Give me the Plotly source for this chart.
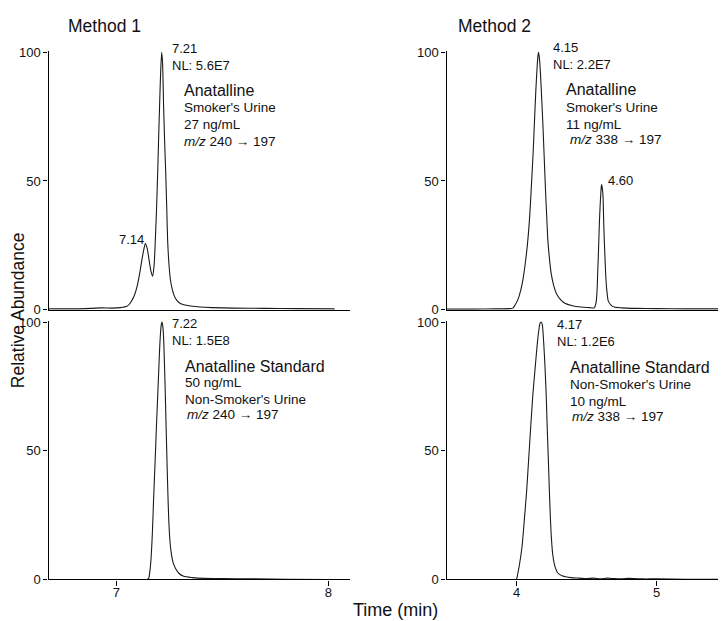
import plotly.graph_objects as go

# ---------------- data ----------------
# Method 1, smoker's urine
m1_smk_t = [6.68, 6.80, 6.88, 6.93, 6.98, 7.02, 7.05, 7.066, 7.085, 7.098, 7.11, 7.121, 7.13, 7.137,
            7.145, 7.152, 7.162, 7.171, 7.178, 7.184, 7.19, 7.195, 7.20, 7.204, 7.209, 7.214, 7.218,
            7.223, 7.228, 7.233, 7.238, 7.242, 7.248, 7.255, 7.265, 7.278, 7.295, 7.318, 7.35, 7.396,
            7.45, 7.55, 7.70, 7.85, 8.03]
m1_smk_v = [0.3, 0.3, 0.5, 0.7, 0.6, 0.8, 1.3, 2.6, 5.5, 9, 14, 19.5, 23.5, 25.7,
            24, 20.7, 15.5, 13, 17, 27, 40, 53, 68, 79, 92, 100, 96,
            79, 65, 53, 39, 27, 18, 11.7, 7.5, 4.5, 2.8, 1.9, 1.4, 1.0,
            0.8, 0.6, 0.5, 0.4, 0.3]

# Method 2, smoker's urine
m2_smk_t = [3.50, 3.70, 3.85, 3.95, 3.974, 3.99, 4.01, 4.03, 4.046, 4.065, 4.081, 4.095, 4.105, 4.118,
            4.128, 4.138, 4.145, 4.152, 4.157, 4.163, 4.171, 4.18, 4.188, 4.198, 4.207, 4.216, 4.224,
            4.235, 4.247, 4.265, 4.283, 4.31, 4.342, 4.40, 4.461, 4.52, 4.556, 4.568, 4.575, 4.580,
            4.587, 4.592, 4.597, 4.601, 4.605, 4.608, 4.612, 4.618, 4.622, 4.627, 4.633, 4.639, 4.647,
            4.656, 4.675, 4.698, 4.75, 4.85, 5.0, 5.2, 5.5]
m2_smk_v = [0.2, 0.2, 0.3, 0.4, 0.6, 1.8, 3.9, 7.5, 11.7, 19, 27, 37, 46.7, 60,
            72.6, 85, 92, 98, 100, 98, 92, 82, 72.6, 59, 46.7, 36, 27,
            20, 14.3, 9.5, 6.5, 4.2, 2.6, 1.5, 1.0, 0.8, 0.7, 2.6, 7, 14.3,
            25, 33.7, 40, 44, 47.5, 48.6, 47.5, 44, 36, 27, 19, 11.7, 6.5,
            3.3, 1.8, 1.0, 0.7, 0.5, 0.4, 0.3, 0.3]

# Method 1, standard in non-smoker's urine
m1_std_t = [6.68, 7.10, 7.145, 7.152, 7.158, 7.164, 7.17, 7.176, 7.183, 7.189, 7.195, 7.200, 7.204,
            7.208, 7.212, 7.215, 7.219, 7.223, 7.227, 7.231, 7.235, 7.239, 7.243, 7.247, 7.252,
            7.258, 7.267, 7.278, 7.295, 7.318, 7.36, 7.412, 7.5, 7.65, 7.8, 8.0]
m1_std_v = [0, 0, 0, 0.3, 3, 8.3, 18, 31.6, 46, 58.9, 71, 81, 89,
            95.2, 99, 100, 98.5, 93.9, 84, 71.9, 59, 45.9, 34, 23.9, 16,
            10.9, 6.8, 4.4, 2.4, 1.2, 0.7, 0.4, 0.3, 0.2, 0.1, 0.0]

# Method 2, standard in non-smoker's urine
m2_std_t = [3.50, 3.80, 3.95, 3.998, 4.01, 4.021, 4.04, 4.057, 4.072, 4.086, 4.10, 4.117, 4.133,
            4.148, 4.16, 4.168, 4.176, 4.184, 4.195, 4.204, 4.212, 4.22, 4.228, 4.235, 4.242, 4.25,
            4.259, 4.275, 4.295, 4.33, 4.39, 4.45, 4.5, 4.55, 4.6, 4.65, 4.7, 4.75, 4.8, 4.85, 4.9,
            5.0, 5.2, 5.5]
m2_std_v = [0, 0, 0, 0, 2.5, 5.7, 13, 23.9, 34, 45.9, 58, 71.9, 82,
            91.3, 97, 99.5, 100, 99, 91.3, 82, 71.9, 58, 45.9, 34, 23.9, 15.5,
            9.6, 5, 2.5, 1.3, 0.7, 0.5, 0.3, 0.5, 0.2, 0.5, 0.3, 0.2, 0.4, 0.3, 0.2,
            0.2, 0.1, 0.1]

y_ticks = [0, 50, 100]
m1_xticks = [7, 8]
m2_xticks = [4, 5]

# ---------------- figure ----------------
W, H = 726, 621
# measured mapping of figure pixels to the photographed page
OFF_X, OFF_Y, SCALE_Y = 7.5, 16.3, 0.971
FONT = "Liberation Sans, Arial, Helvetica, sans-serif"
INK = "#111111"


def fx(X):
    """target screen x -> paper fraction"""
    return (X - OFF_X) / W


def fy(Y):
    """target screen y -> paper fraction"""
    return 1 - ((Y - OFF_Y) / SCALE_Y) / H


fig = go.Figure()
traces = [
    (m1_smk_t, m1_smk_v, "x", "y"),
    (m2_smk_t, m2_smk_v, "x2", "y2"),
    (m1_std_t, m1_std_v, "x3", "y3"),
    (m2_std_t, m2_std_v, "x4", "y4"),
]
for t, v, xa, ya in traces:
    fig.add_trace(go.Scatter(x=t, y=v, xaxis=xa, yaxis=ya, mode="lines",
                             line=dict(color="#1a1a1a", width=1.1, shape="spline", smoothing=0.7),
                             hoverinfo="skip", showlegend=False))

left_dom = [fx(48), fx(349)]
right_dom = [fx(446), fx(726)]
top_dom = [fy(310), fy(53)]
bot_dom = [fy(578), fy(321)]

xbase = dict(showline=True, linecolor="black", linewidth=1.2, showgrid=False, zeroline=False,
             tickfont=dict(family=FONT, size=13, color=INK))
ybase = dict(showline=True, linecolor="black", linewidth=1.2, showgrid=False, zeroline=False,
             range=[0, 100.5], tickvals=y_ticks, ticks="outside", ticklen=4, tickwidth=1,
             tickcolor="black", tickfont=dict(family=FONT, size=13, color=INK))
xtick = dict(ticks="outside", ticklen=5, tickwidth=1, tickcolor="black", ticklabelstandoff=-4)

fig.update_layout(
    width=W, height=H, margin=dict(l=0, r=0, t=0, b=0),
    paper_bgcolor="white", plot_bgcolor="white", showlegend=False,
    font=dict(family=FONT, color=INK),
    xaxis=dict(xbase, domain=left_dom, range=[6.68, 8.10], anchor="y", ticks="", showticklabels=False),
    xaxis2=dict(xbase, domain=right_dom, range=[3.5, 5.5], anchor="y2", ticks="", showticklabels=False),
    xaxis3=dict(xbase, **xtick, domain=left_dom, range=[6.68, 8.10], anchor="y3", tickvals=m1_xticks),
    xaxis4=dict(xbase, **xtick, domain=right_dom, range=[3.5, 5.5], anchor="y4", tickvals=m2_xticks),
    yaxis=dict(ybase, domain=top_dom, anchor="x"),
    yaxis2=dict(ybase, domain=top_dom, anchor="x2"),
    yaxis3=dict(ybase, domain=bot_dom, anchor="x3"),
    yaxis4=dict(ybase, domain=bot_dom, anchor="x4"),
)

ARW = "\u2192"
SUB = 13.5
BIG = 16
# (text, target screen x of left edge, target screen y of cap middle, size)
labels = [
    # top-left
    ("7.21", 171, 48, 13),
    ("NL: 5.6E7", 171, 64.5, 13),
    ("Anatalline", 183.3, 89.5, BIG),
    ("Smoker's Urine", 183.3, 106.7, SUB),
    ("27 ng/mL", 183.3, 123.3, SUB),
    ("<i>m/z</i> 240 " + ARW + " 197", 183.3, 140, SUB),
    ("7.14", 117.7, 237.5, 13),
    # top-right
    ("4.15", 552.3, 47, 13),
    ("NL: 2.2E7", 552.3, 64, 13),
    ("Anatalline", 565.3, 89, BIG),
    ("Smoker's Urine", 565.3, 106.5, SUB),
    ("11 ng/mL", 565.3, 123.3, SUB),
    ("<i>m/z</i> 338 " + ARW + " 197", 569, 138.3, SUB),
    ("4.60", 607, 179.5, 13),
    # bottom-left
    ("7.22", 171, 323, 13),
    ("NL: 1.5E8", 171, 339.5, 13),
    ("Anatalline Standard", 184.3, 365.3, BIG),
    ("50 ng/mL", 184.3, 381.3, SUB),
    ("Non-Smoker's Urine", 184.3, 398.3, SUB),
    ("<i>m/z</i> 240 " + ARW + " 197", 186, 413.3, SUB),
    # bottom-right
    ("4.17", 555.7, 323.8, 13),
    ("NL: 1.2E6", 555.7, 340.5, 13),
    ("Anatalline Standard", 568.7, 366, BIG),
    ("Non-Smoker's Urine", 568.7, 383.3, SUB),
    ("10 ng/mL", 568.7, 400, SUB),
    ("<i>m/z</i> 338 " + ARW + " 197", 571.3, 415.3, SUB),
]
for text, x, y, size in labels:
    dy = 2.5 if y < 300 else 1.0
    fig.add_annotation(text=text, x=fx(x - 1.5), y=fy(y + dy), xref="paper", yref="paper",
                       xanchor="left", yanchor="middle", showarrow=False,
                       font=dict(family=FONT, size=size, color=INK))

# panel titles (pinned to the top edge of the figure)
for text, x in [("Method 1", 103.5), ("Method 2", 493.5)]:
    fig.add_annotation(text=text, x=fx(x), y=1.0, xref="paper", yref="paper",
                       xanchor="center", yanchor="top", showarrow=False,
                       font=dict(family=FONT, size=17.5, color=INK))

fig.add_annotation(text="Time (min)", x=fx(395.5), y=fy(608), xref="paper", yref="paper",
                   xanchor="center", yanchor="middle", showarrow=False,
                   font=dict(family=FONT, size=18, color=INK))

fig.add_annotation(text="Relative Abundance", x=-2.5 / W, y=fy(311), xref="paper", yref="paper",
                   xanchor="left", yanchor="middle", textangle=-90, showarrow=False,
                   font=dict(family=FONT, size=17.5, color=INK))

fig.write_html("out.html")
